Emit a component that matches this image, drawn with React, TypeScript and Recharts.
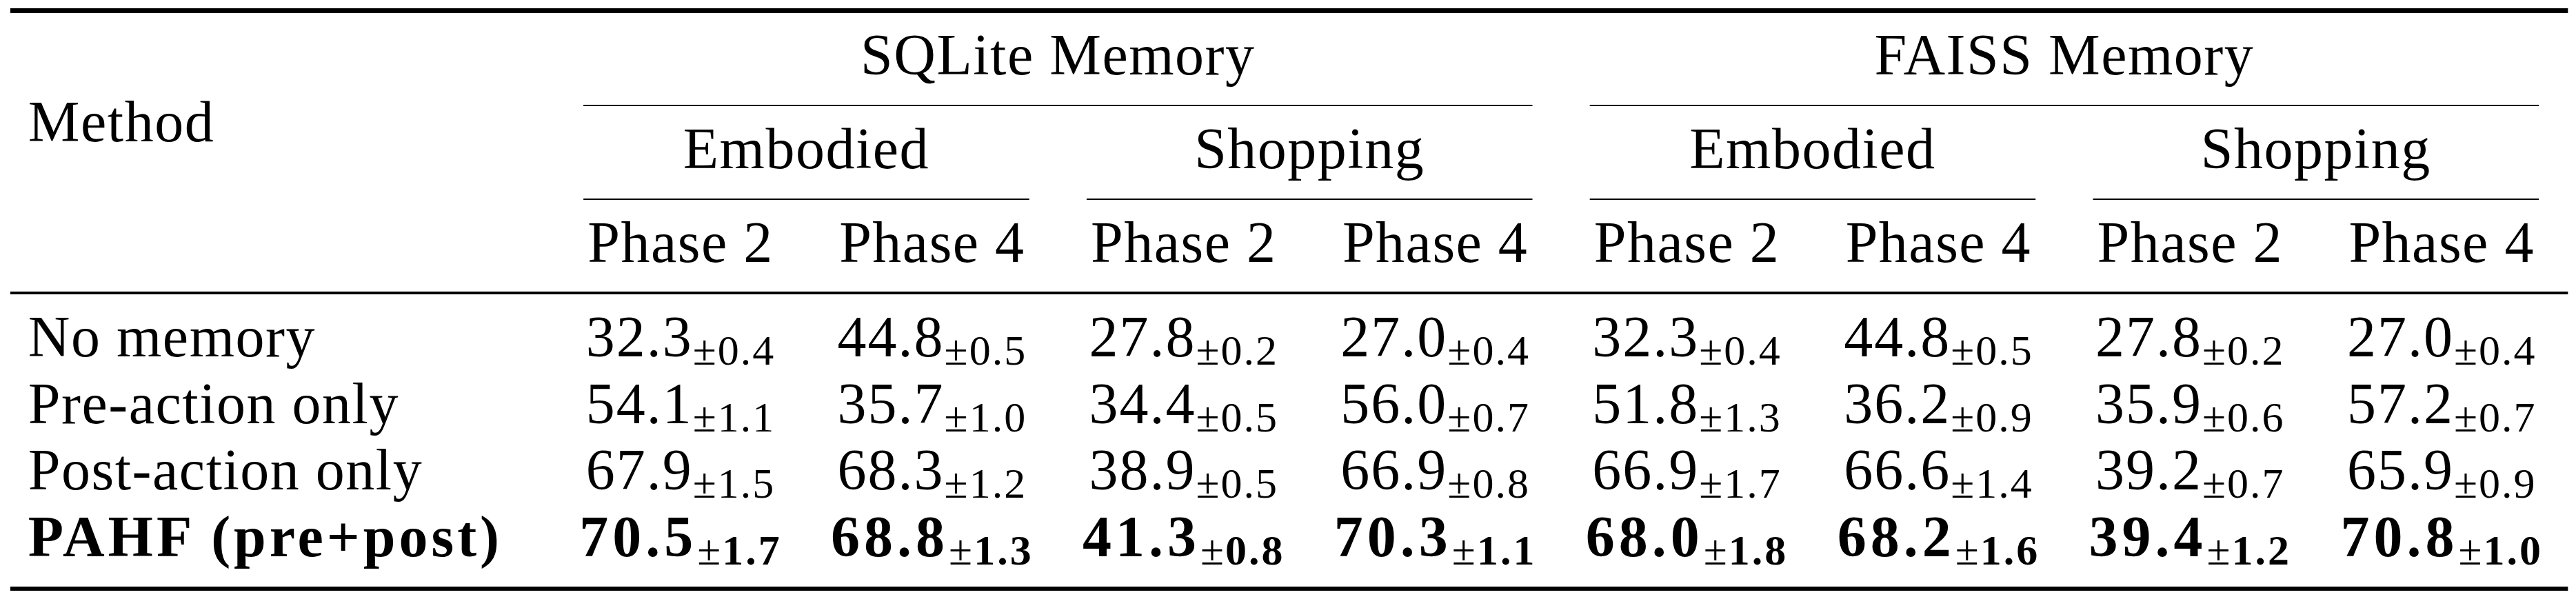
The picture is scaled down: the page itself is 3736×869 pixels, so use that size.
import { ScatterChart, Scatter, XAxis, YAxis, ReferenceLine } from "recharts";

// ---- table content ----
const MEMORY_GROUPS = ["SQLite Memory", "FAISS Memory"];
const TASKS = ["Embodied", "Shopping"];
const PHASES = ["Phase 2", "Phase 4"];
const METHODS = ["No memory", "Pre-action only", "Post-action only", "PAHF (pre+post)"];
const BEST_METHOD = "PAHF (pre+post)";

// columns: SQLite Embodied P2, P4, SQLite Shopping P2, P4, FAISS Embodied P2, P4, FAISS Shopping P2, P4
const NO_MEMORY_MEAN = [32.3, 44.8, 27.8, 27.0, 32.3, 44.8, 27.8, 27.0];
const NO_MEMORY_STD = [0.4, 0.5, 0.2, 0.4, 0.4, 0.5, 0.2, 0.4];
const PRE_ONLY_MEAN = [54.1, 35.7, 34.4, 56.0, 51.8, 36.2, 35.9, 57.2];
const PRE_ONLY_STD = [1.1, 1.0, 0.5, 0.7, 1.3, 0.9, 0.6, 0.7];
const POST_ONLY_MEAN = [67.9, 68.3, 38.9, 66.9, 66.9, 66.6, 39.2, 65.9];
const POST_ONLY_STD = [1.5, 1.2, 0.5, 0.8, 1.7, 1.4, 0.7, 0.9];
const PAHF_MEAN = [70.5, 68.8, 41.3, 70.3, 68.0, 68.2, 39.4, 70.8];
const PAHF_STD = [1.7, 1.3, 0.8, 1.1, 1.8, 1.6, 1.2, 1.0];

const MEANS = [NO_MEMORY_MEAN, PRE_ONLY_MEAN, POST_ONLY_MEAN, PAHF_MEAN];
const STDS = [NO_MEMORY_STD, PRE_ONLY_STD, POST_ONLY_STD, PAHF_STD];

// ---- layout (x in column units, y in body-row units) ----
const WIDTH = 3736;
const HEIGHT = 869;
const X_DOMAIN: [number, number] = [-2.705, 7.534];
const Y_DOMAIN: [number, number] = [-5.348, 3.641];
const X_LABEL = -2.593;
const X_RULE: [number, number] = [-2.664, 7.502];
const TRIM = 0.386;

const Y_GROUP = -4.231;
const Y_TASK = -2.824;
const Y_PHASE = -1.417;
const Y_METHOD_HEAD = -3.227;
const Y_TOP_RULE = -5.188;
const Y_CMID_GROUP = -3.765;
const Y_CMID_TASK = -2.359;
const Y_MID_RULE = -0.952;
const Y_BOTTOM_RULE = 3.486;

const FONT = "Liberation Serif";
const MAIN_SIZE = 84;
const SUB_SIZE = 62;
const INK = "#000";

const phaseCols = PHASES.length;
const taskCols = TASKS.length * phaseCols;

const groupData = MEMORY_GROUPS.map((label, g) => ({
  x: g * taskCols + (taskCols - 1) / 2,
  y: Y_GROUP,
  label,
}));

const taskData = MEMORY_GROUPS.flatMap((_, g) =>
  TASKS.map((label, t) => ({
    x: g * taskCols + t * phaseCols + (phaseCols - 1) / 2,
    y: Y_TASK,
    label,
  })),
);

const phaseData = MEMORY_GROUPS.flatMap((_, g) =>
  TASKS.flatMap((__, t) =>
    PHASES.map((label, p) => ({
      x: g * taskCols + t * phaseCols + p,
      y: Y_PHASE,
      label,
    })),
  ),
);

const methodData = [
  { x: X_LABEL, y: Y_METHOD_HEAD, label: "Method", bold: false },
  ...METHODS.map((label, r) => ({ x: X_LABEL, y: r, label, bold: label === BEST_METHOD })),
];

const cellData = METHODS.flatMap((m, r) =>
  MEANS[r].map((mean, c) => ({ x: c, y: r, mean, std: STDS[r][c], bold: m === BEST_METHOD })),
);

const textStyle = { fontFamily: FONT };

function HeaderText(props: any) {
  const { cx, cy, payload } = props;
  return (
    <text
      x={cx}
      y={cy}
      textAnchor="middle"
      style={textStyle}
      fontSize={MAIN_SIZE}
      letterSpacing={1.5}
      fill={INK}
    >
      {payload.label}
    </text>
  );
}

function MethodText(props: any) {
  const { cx, cy, payload } = props;
  return (
    <text
      x={cx}
      y={cy}
      textAnchor="start"
      style={textStyle}
      fontSize={MAIN_SIZE}
      fontWeight={payload.bold ? 700 : 400}
      letterSpacing={payload.bold ? 5 : 1.5}
      fill={INK}
    >
      {payload.label}
    </text>
  );
}

function CellText(props: any) {
  const { cx, cy, payload } = props;
  const bold = payload.bold;
  return (
    <text x={cx} y={cy} textAnchor="middle" style={textStyle} fill={INK}>
      <tspan fontSize={MAIN_SIZE} fontWeight={bold ? 700 : 400} letterSpacing={bold ? 6 : 2}>
        {payload.mean.toFixed(1)}
      </tspan>
      <tspan fontSize={SUB_SIZE} dy={12} letterSpacing={2}>
        ±
      </tspan>
      <tspan fontSize={SUB_SIZE} fontWeight={bold ? 700 : 400} letterSpacing={bold ? 3 : 2}>
        {payload.std.toFixed(1)}
      </tspan>
    </text>
  );
}

function hRule(key: string, x1: number, x2: number, y: number, w: number) {
  return (
    <ReferenceLine
      key={key}
      segment={[
        { x: x1, y },
        { x: x2, y },
      ]}
      stroke={INK}
      strokeWidth={w}
      ifOverflow="visible"
    />
  );
}

const groupRules = MEMORY_GROUPS.map((_, g) =>
  hRule(`g${g}`, g * taskCols - TRIM, g * taskCols + taskCols - 1 + TRIM, Y_CMID_GROUP, 2),
);
const taskRules = MEMORY_GROUPS.flatMap((_, g) =>
  TASKS.map((__, t) => {
    const c0 = g * taskCols + t * phaseCols;
    return hRule(`t${g}${t}`, c0 - TRIM, c0 + phaseCols - 1 + TRIM, Y_CMID_TASK, 2);
  }),
);

export default function App() {
  return (
    <div style={{ position: "absolute", left: 0, top: 0, width: WIDTH, height: HEIGHT, background: "#fff" }}>
      <ScatterChart width={WIDTH} height={HEIGHT} margin={{ top: 0, right: 0, bottom: 0, left: 0 }}>
        <XAxis type="number" dataKey="x" domain={X_DOMAIN} allowDataOverflow hide />
        <YAxis type="number" dataKey="y" domain={Y_DOMAIN} allowDataOverflow reversed hide />
        {hRule("top", X_RULE[0], X_RULE[1], Y_TOP_RULE, 7)}
        {groupRules}
        {taskRules}
        {hRule("mid", X_RULE[0], X_RULE[1], Y_MID_RULE, 4)}
        {hRule("bottom", X_RULE[0], X_RULE[1], Y_BOTTOM_RULE, 6)}
        <Scatter data={groupData} shape={HeaderText} isAnimationActive={false} />
        <Scatter data={taskData} shape={HeaderText} isAnimationActive={false} />
        <Scatter data={phaseData} shape={HeaderText} isAnimationActive={false} />
        <Scatter data={methodData} shape={MethodText} isAnimationActive={false} />
        <Scatter data={cellData} shape={CellText} isAnimationActive={false} />
      </ScatterChart>
    </div>
  );
}
